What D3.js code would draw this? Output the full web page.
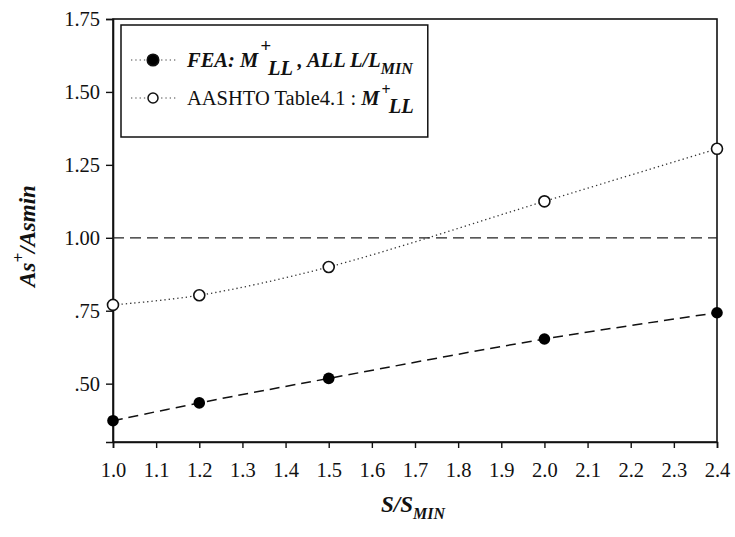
<!DOCTYPE html>
<html>
<head>
<meta charset="utf-8">
<script src="https://cdn.jsdelivr.net/npm/d3@7"></script>
<style>
  html, body { margin: 0; padding: 0; background: #fff; }
  svg { display: block; font-family: "Liberation Serif", "Times New Roman", serif; }
</style>
</head>
<body>
<svg id="chart" width="735" height="537"></svg>
<script>
// Span ratio S/Smin
const spanRatios = [1.0, 1.2, 1.5, 2.0, 2.4];
// As+/Asmin from finite element analysis
const feaValues = [0.373, 0.434, 0.518, 0.653, 0.743];
// As+/Asmin from AASHTO Table 4.1 moments
const aashtoValues = [0.770, 0.803, 0.900, 1.125, 1.305];
// Reference level
const referenceLevel = 1.0;
// Tick labels
const xTicks = [1.0, 1.1, 1.2, 1.3, 1.4, 1.5, 1.6, 1.7, 1.8, 1.9, 2.0, 2.1, 2.2, 2.3, 2.4];
const yTicks = [0.5, 0.75, 1.0, 1.25, 1.5, 1.75];

const svg = d3.select("#chart");
const m = { left: 113, right: 717, top: 19, bottom: 442 };

const x = d3.scaleLinear().domain([1.0, 2.4]).range([m.left, m.right]);
const y = d3.scaleLinear().domain([0.3, 1.75]).range([m.bottom, m.top]);

// plot frame
svg.append("rect")
  .attr("x", m.left).attr("y", m.top)
  .attr("width", m.right - m.left).attr("height", m.bottom - m.top)
  .attr("fill", "none").attr("stroke", "#111").attr("stroke-width", 1.6);

// axes
const yAxis = d3.axisLeft(y).tickValues(yTicks).tickSize(7).tickPadding(6)
  .tickFormat(d => { const s = d3.format(".2f")(d); return d < 1 ? s.replace(/^0/, "") : s; });
const gy = svg.append("g").attr("transform", `translate(${m.left},0)`).call(yAxis);

const xAxis = d3.axisBottom(x).tickValues(xTicks).tickSize(6).tickPadding(14)
  .tickFormat(d3.format(".1f"));
const gx = svg.append("g").attr("transform", `translate(0,${m.bottom})`).call(xAxis);

[gx, gy].forEach(g => {
  g.select(".domain").attr("stroke", "#111").attr("stroke-width", 1.6);
  g.selectAll(".tick line").attr("stroke", "#111").attr("stroke-width", 1.4);
  g.selectAll(".tick text").attr("fill", "#111")
    .style("font-family", "'Liberation Serif', serif").style("font-size", "20.5px");
});

// reference line at 1.00
svg.append("line")
  .attr("x1", m.left).attr("x2", m.right)
  .attr("y1", y(referenceLevel)).attr("y2", y(referenceLevel))
  .attr("stroke", "#222").attr("stroke-width", 1.3).attr("stroke-dasharray", "11,6");

const line = d3.line().curve(d3.curveCatmullRom.alpha(0.5));

// AASHTO series: dotted smooth curve with open circles
const aashtoPts = spanRatios.map((s, i) => [x(s), y(aashtoValues[i])]);
svg.append("path").attr("d", line(aashtoPts))
  .attr("fill", "none").attr("stroke", "#333").attr("stroke-width", 1.3)
  .attr("stroke-dasharray", "1.3,3");

// FEA series: dashed line with filled circles
const feaPts = spanRatios.map((s, i) => [x(s), y(feaValues[i])]);
svg.append("path").attr("d", line(feaPts))
  .attr("fill", "none").attr("stroke", "#111").attr("stroke-width", 1.5)
  .attr("stroke-dasharray", "10,6");

svg.append("g").selectAll("circle").data(aashtoPts).join("circle")
  .attr("cx", d => d[0]).attr("cy", d => d[1]).attr("r", 5.5)
  .attr("fill", "#fff").attr("stroke", "#111").attr("stroke-width", 1.6);

svg.append("g").selectAll("circle").data(feaPts).join("circle")
  .attr("cx", d => d[0]).attr("cy", d => d[1]).attr("r", 5.8)
  .attr("fill", "#000");

// legend
const lg = svg.append("g");
const box = lg.append("rect").attr("x", 121).attr("y", 25).attr("height", 112)
  .attr("fill", "#fff").attr("stroke", "#111").attr("stroke-width", 1.5);

const rows = [{ y: 60, filled: true }, { y: 98, filled: false }];
rows.forEach(r => {
  lg.append("line").attr("x1", 131).attr("x2", 176).attr("y1", r.y).attr("y2", r.y)
    .attr("stroke", "#444").attr("stroke-width", 1.2).attr("stroke-dasharray", "1.3,3");
  lg.append("circle").attr("cx", 153).attr("cy", r.y).attr("r", r.filled ? 5.8 : 5)
    .attr("fill", r.filled ? "#000" : "#fff").attr("stroke", "#111").attr("stroke-width", 1.5);
});

const t1 = lg.append("text").attr("x", 187).attr("y", 67)
  .style("font-size", "20.5px").style("font-weight", "bold").style("font-style", "italic").attr("fill", "#111");
t1.append("tspan").text("FEA: M");
t1.append("tspan").attr("dy", -15).attr("dx", 2).style("font-size", "19px").text("+");
t1.append("tspan").attr("dy", 23).attr("dx", -3).text("LL");
t1.append("tspan").attr("dy", -8).text(" , ALL L/L");
t1.append("tspan").attr("dy", 7).style("font-size", "16px").text("MIN");

const t2 = lg.append("text").attr("x", 187).attr("y", 105)
  .style("font-size", "20.5px").attr("fill", "#111");
t2.append("tspan").text("AASHTO Table4.1 : ");
t2.append("tspan").style("font-weight", "bold").style("font-style", "italic").text("M");
t2.append("tspan").attr("dy", -10).attr("dx", 2).style("font-weight", "bold").style("font-size", "16px").text("+");
t2.append("tspan").attr("dy", 18).attr("dx", -2).style("font-weight", "bold").style("font-style", "italic").text("LL");

const w = Math.max(t1.node().getComputedTextLength(), t2.node().getComputedTextLength());
box.attr("width", 187 + w + 14 - 121);

// axis titles
const yt = svg.append("text")
  .attr("transform", "translate(35,236) rotate(-90)")
  .attr("text-anchor", "middle")
  .style("font-size", "23px").style("font-weight", "bold").style("font-style", "italic").attr("fill", "#111");
yt.append("tspan").text("As");
yt.append("tspan").attr("dy", -11).style("font-size", "17px").text("+");
yt.append("tspan").attr("dy", 11).text("/Asmin");

const xt = svg.append("text")
  .attr("x", 413).attr("y", 512).attr("text-anchor", "middle")
  .style("font-size", "23px").style("font-weight", "bold").style("font-style", "italic").attr("fill", "#111");
xt.append("tspan").text("S/S");
xt.append("tspan").attr("dy", 7).style("font-size", "16px").text("MIN");
</script>
</body>
</html>
